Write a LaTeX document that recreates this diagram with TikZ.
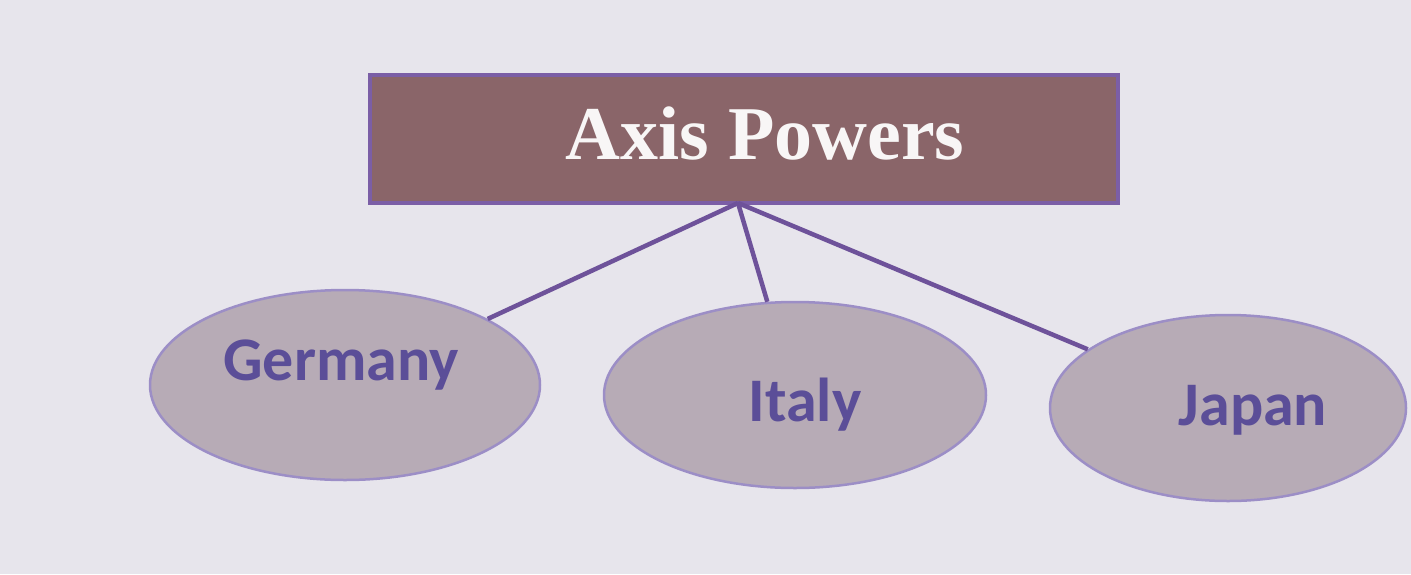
\documentclass[tikz,border=0pt]{standalone}
\usepackage{fontspec}
\setmainfont{Liberation Serif}
\newfontfamily\labelfont{Carlito}
\usetikzlibrary{shapes.geometric}
\definecolor{bg}{HTML}{E7E5EC}
\definecolor{boxfill}{HTML}{8A6569}
\definecolor{boxline}{HTML}{7B5EA6}
\definecolor{ellfill}{HTML}{B7ABB6}
\definecolor{ellline}{HTML}{9C8EC6}
\definecolor{linkcol}{HTML}{6E529A}
\definecolor{txtcol}{HTML}{5B4E98}
\begin{document}
\begin{tikzpicture}[x=1pt,y=-1pt,
  titlebox/.style={draw=boxline,line width=4pt,fill=boxfill,minimum width=748pt,minimum height=128pt,inner sep=0pt},
  country/.style={ellipse,draw=ellline,line width=2.5pt,fill=ellfill,inner sep=0pt},
  ctext/.style={text=txtcol,font=\labelfont\bfseries\fontsize{62}{64}\selectfont},
  link/.style={draw=linkcol,line width=4.5pt}]
\fill[bg] (0,0) rectangle (1411,574);
\useasboundingbox (0,0) rectangle (1411,574);
\node[titlebox] (axis) at (744,139) {};
\node[text=white!94!boxfill,font=\bfseries\fontsize{76}{78}\selectfont] (axislabel) at (765,133) {Axis Powers};
\coordinate (hub) at (738,203);
\node[country,minimum width=390pt,minimum height=190pt] (germany) at (345,385) {};
\node[country,minimum width=382pt,minimum height=186pt] (italy) at (795,395) {};
\node[country,minimum width=356pt,minimum height=186pt] (japan) at (1228,408) {};
\draw[link] (hub) -- (germany);
\draw[link] (hub) -- (italy);
\draw[link] (hub) -- (japan);
\node[ctext] (glabel) at (341,365) {Germany};
\node[ctext] (ilabel) at (805,405) {Italy};
\node[ctext] (jlabel) at (1253,410) {Japan};
\end{tikzpicture}
\end{document}
